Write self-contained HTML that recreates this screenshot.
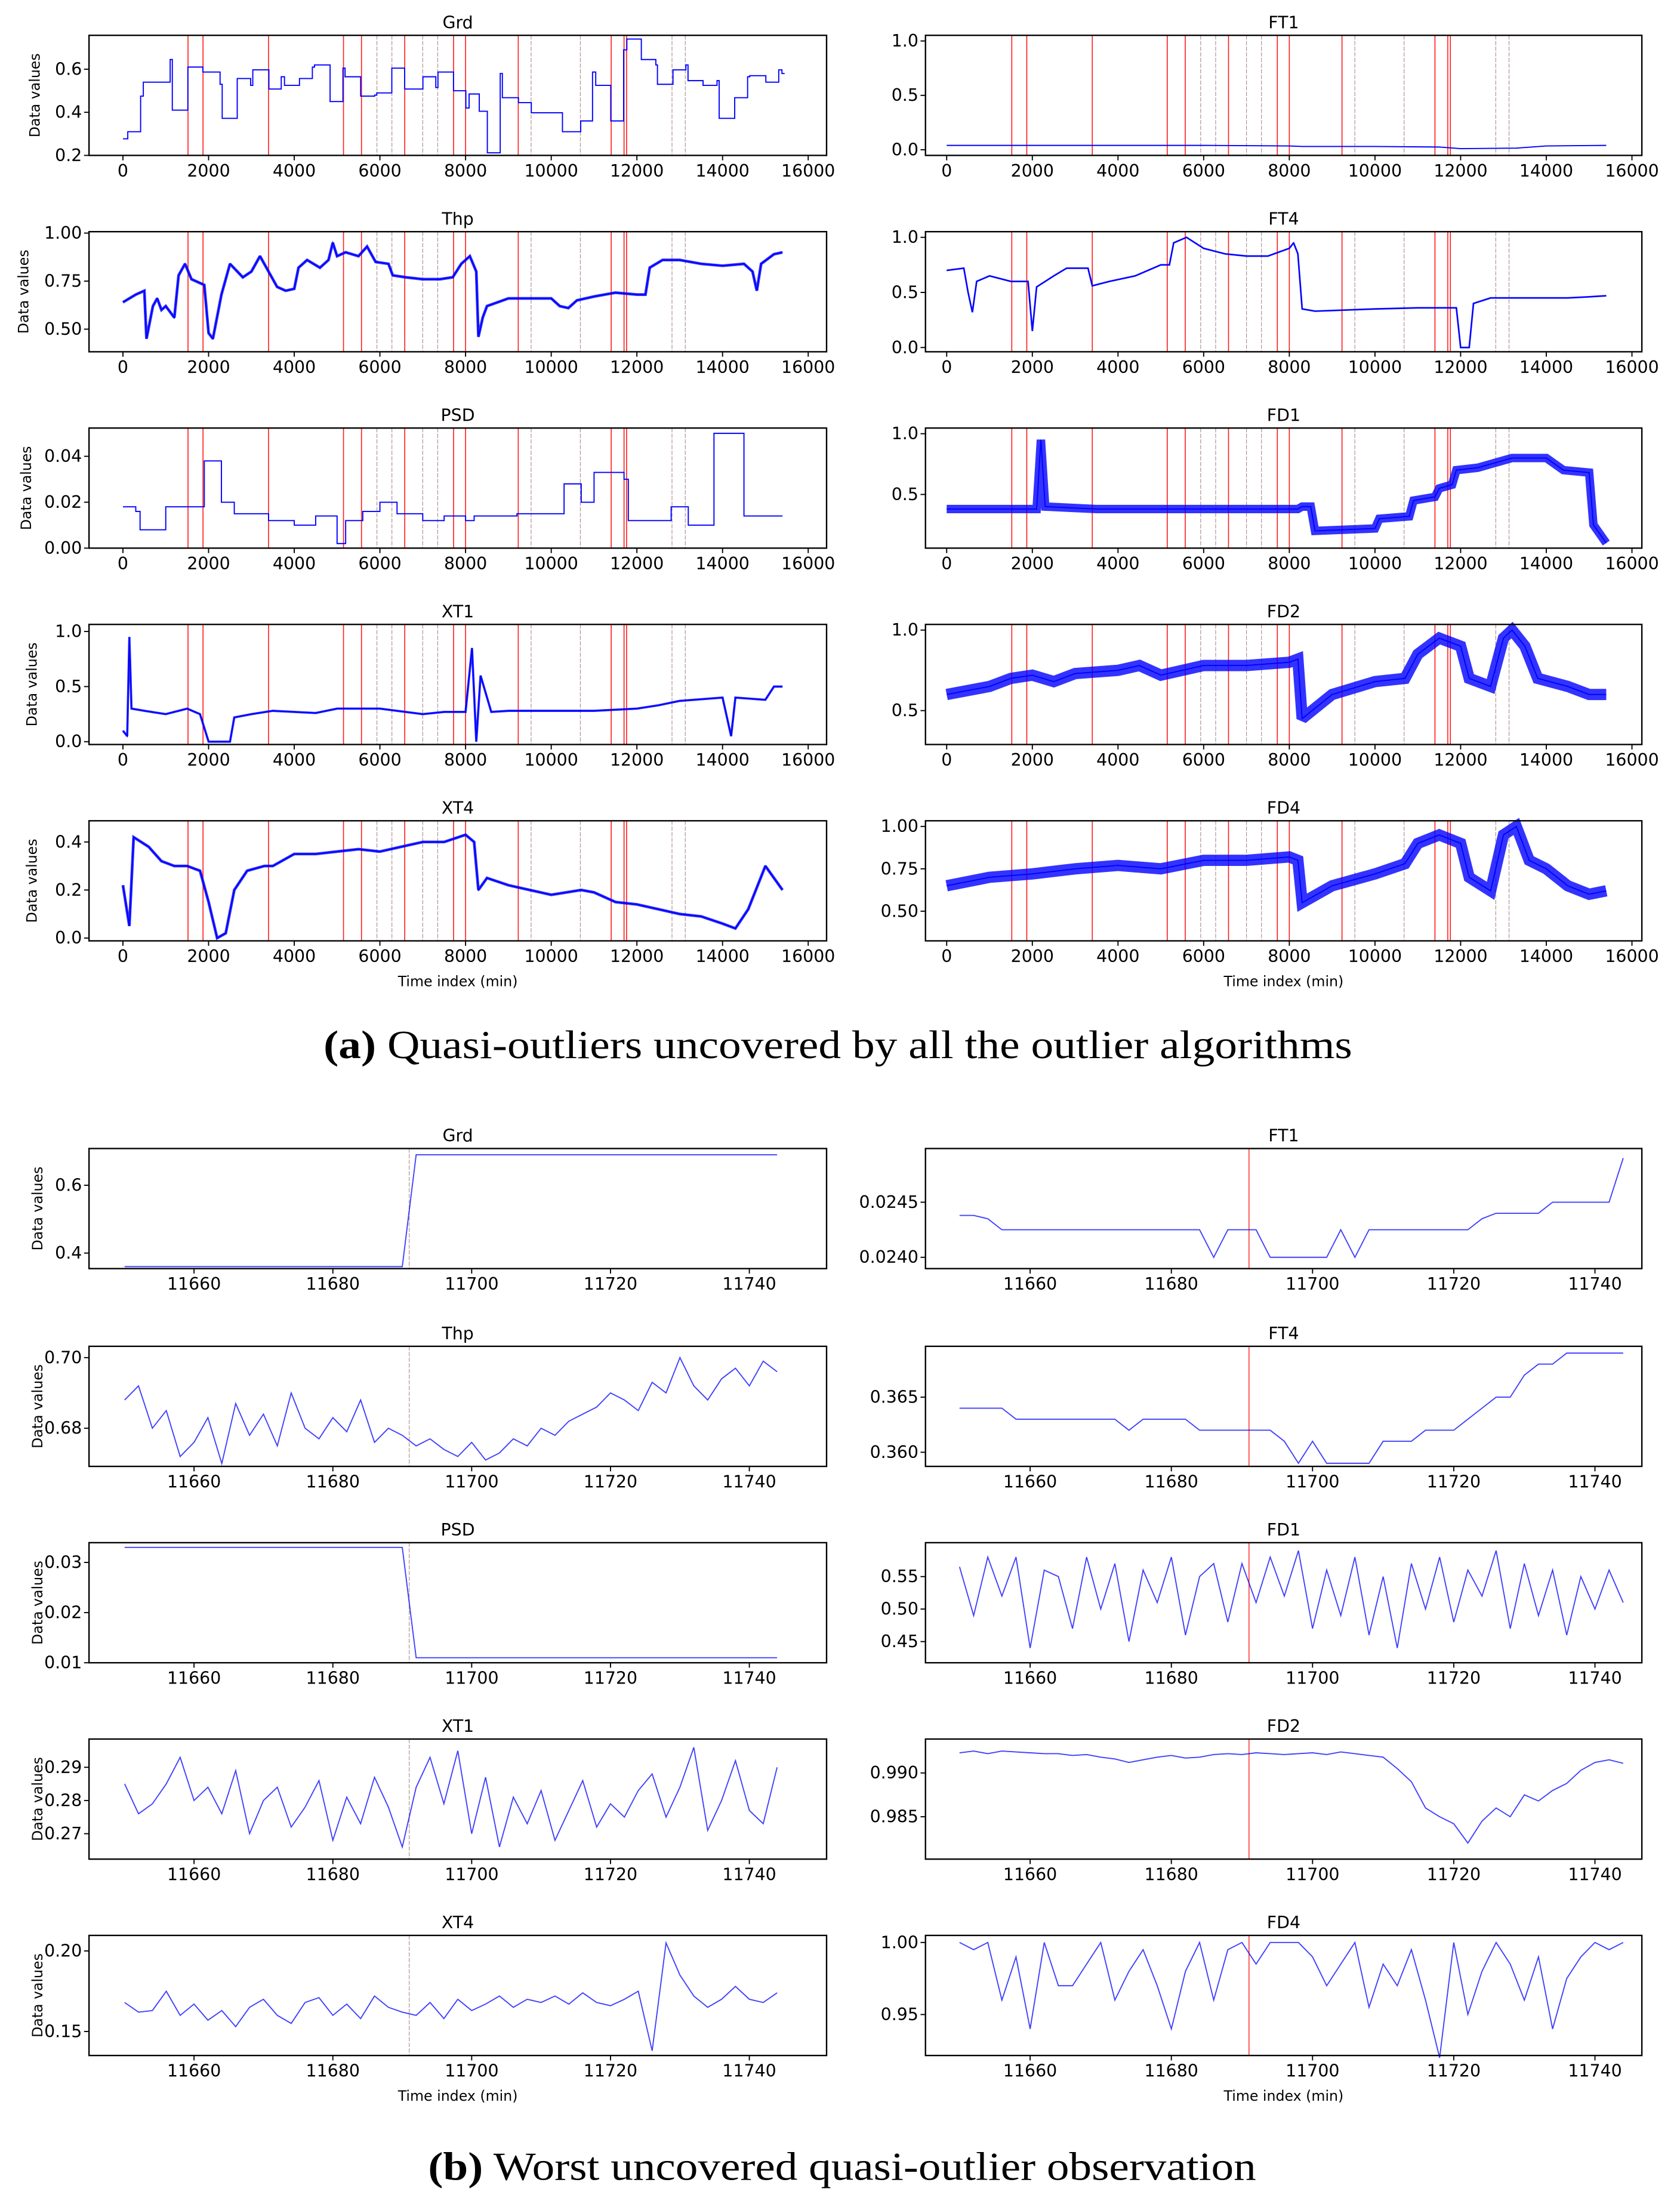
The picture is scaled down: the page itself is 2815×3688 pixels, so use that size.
<!DOCTYPE html>
<html><head><meta charset="utf-8"><style>
html,body{margin:0;padding:0;background:#fff;}
svg{display:block;}
text{font-family:"DejaVu Sans","Liberation Sans",sans-serif;}
.cap{font-family:"Liberation Serif",serif;}
</style></head><body>
<svg id="fig" xmlns="http://www.w3.org/2000/svg" width="2815" height="3688" viewBox="0 0 1189 1558" preserveAspectRatio="none">
<rect width="1189" height="1558" fill="#fff"/>
<text class="cap" x="593" y="749" font-size="28" text-anchor="middle" textLength="728" lengthAdjust="spacingAndGlyphs"><tspan font-weight="bold">(a)</tspan> Quasi-outliers uncovered by all the outlier algorithms</text>
<text class="cap" x="596" y="1543" font-size="28" text-anchor="middle" textLength="586" lengthAdjust="spacingAndGlyphs"><tspan font-weight="bold">(b)</tspan> Worst uncovered quasi-outlier observation</text>
</svg>
<script>
// ---------- top (a) data: [time, value] ----------
const outlierRed = [1520,1870,3400,5150,5570,6580,7720,8000,9230,11400,11700,11760];
const outlierGrey = [5930,6280,7000,7350,9530,10680,12820,13130];
const grdTop = [[0,.277],[113,.31],[413,.475],[476,.54],[1103,.645],[1153,.41],[1516,.61],[1867,.587],[2268,.53],[2318,.372],[2669,.557],[2982,.525],[3032,.597],[3408,.508],[3696,.565],[3772,.525],[4122,.557],[4423,.61],[4473,.62],[4837,.45],[5137,.605],[5187,.565],[5551,.475],[5877,.48],[5927,.49],[6278,.605],[6578,.508],[7004,.565],[7305,.515],[7355,.587],[7718,.5],[8007,.42],[8082,.485],[8320,.405],[8508,.212],[8809,.58],[8859,.468],[9235,.445],[9535,.398],[10262,.31],[10688,.36],[10964,.587],[11039,.525],[11390,.36],[11690,.69],[11766,.74],[12104,.645],[12442,.62],[12480,.53],[12843,.597],[13144,.62],[13194,.547],[13545,.525],[13871,.547],[13921,.372],[14284,.468],[14585,.565],[14635,.57],[15011,.54],[15312,.597],[15387,.58],[15450,.58]];
const ft1Top = [[0,.04],[2000,.04],[4000,.04],[6000,.04],[8000,.035],[8300,.03],[10000,.03],[11500,.025],[12000,.01],[13300,.015],[14000,.035],[15400,.04]];
const thpTop = [[0,.64],[300,.68],[500,.7],[550,.45],[700,.62],[800,.66],[900,.6],[1000,.62],[1200,.56],[1300,.78],[1450,.84],[1600,.76],[1800,.74],[1900,.73],[2000,.48],[2100,.45],[2300,.68],[2500,.84],[2800,.77],[3000,.8],[3200,.88],[3400,.8],[3600,.72],[3800,.7],[4000,.71],[4100,.82],[4300,.86],[4600,.82],[4800,.86],[4900,.95],[5000,.88],[5200,.9],[5500,.88],[5700,.93],[5900,.85],[6200,.84],[6300,.78],[6600,.77],[7000,.76],[7400,.76],[7700,.77],[7900,.84],[8100,.88],[8250,.8],[8300,.46],[8400,.56],[8500,.62],[9000,.66],[9500,.66],[10000,.66],[10200,.62],[10400,.61],[10600,.65],[11000,.67],[11500,.69],[12000,.68],[12200,.68],[12300,.82],[12600,.86],[13000,.86],[13500,.84],[14000,.83],[14500,.84],[14700,.8],[14800,.7],[14900,.84],[15200,.89],[15400,.9]];
const ft4Top = [[0,.7],[400,.72],[500,.5],[600,.32],[700,.6],[1000,.65],[1500,.6],[1900,.6],[2000,.15],[2100,.55],[2500,.65],[2800,.72],[3300,.72],[3400,.56],[3800,.6],[4400,.65],[5000,.75],[5200,.75],[5300,.95],[5600,1.0],[6000,.9],[6500,.85],[7000,.83],[7500,.83],[8000,.9],[8100,.95],[8200,.85],[8300,.35],[8600,.33],[10000,.35],[11000,.36],[11900,.36],[12000,.0],[12200,.0],[12300,.4],[12700,.45],[13500,.45],[14500,.45],[15000,.46],[15400,.47]];
const psdTop = [[0,.018],[300,.016],[400,.008],[1000,.018],[1500,.018],[1900,.038],[2300,.02],[2600,.015],[3400,.012],[4000,.01],[4500,.014],[5000,.002],[5200,.012],[5600,.016],[6000,.02],[6400,.015],[7000,.012],[7500,.014],[8000,.012],[8200,.014],[9200,.015],[10300,.028],[10700,.02],[11000,.033],[11700,.03],[11800,.012],[12800,.018],[13200,.01],[13800,.05],[14500,.014],[15400,.014]];
const xt1Top = [[0,.1],[100,.05],[150,.95],[200,.3],[500,.28],[1000,.25],[1500,.3],[1800,.25],[2000,.0],[2500,.0],[2600,.22],[3000,.25],[3500,.28],[4000,.27],[4500,.26],[5000,.3],[6000,.3],[7000,.25],[7500,.27],[8000,.27],[8150,.85],[8250,.0],[8350,.6],[8600,.27],[9000,.28],[10000,.28],[11000,.28],[12000,.3],[12500,.33],[13000,.37],[14000,.4],[14200,.05],[14300,.4],[15000,.38],[15200,.5],[15400,.5]];
const xt4Top = [[0,.22],[150,.05],[250,.42],[600,.38],[900,.32],[1200,.3],[1500,.3],[1800,.28],[2000,.15],[2200,.0],[2400,.02],[2600,.2],[2900,.28],[3300,.3],[3500,.3],[4000,.35],[4500,.35],[5000,.36],[5500,.37],[6000,.36],[6500,.38],[7000,.4],[7500,.4],[8000,.43],[8200,.4],[8300,.2],[8500,.25],[9000,.22],[9500,.2],[10000,.18],[10700,.2],[11000,.19],[11500,.15],[12000,.14],[12500,.12],[13000,.1],[13500,.09],[14000,.06],[14300,.04],[14600,.12],[15000,.3],[15200,.25],[15400,.2]];
const fd1Top = [[0,.38],[2100,.38],[2200,.95],[2300,.4],[3500,.38],[5000,.38],[8200,.38],[8300,.4],[8500,.4],[8600,.2],[10000,.22],[10100,.3],[10800,.32],[10900,.45],[11400,.48],[11500,.55],[11800,.58],[11900,.7],[12400,.72],[13200,.8],[14000,.8],[14400,.7],[15000,.68],[15100,.25],[15400,.1]];
const fd2Top = [[0,.6],[1000,.65],[1500,.7],[2000,.72],[2500,.68],[3000,.73],[4000,.75],[4500,.78],[5000,.72],[6000,.78],[7000,.78],[8000,.8],[8200,.82],[8300,.45],[9000,.6],[10000,.68],[10700,.7],[11000,.85],[11500,.95],[12000,.9],[12200,.7],[12700,.65],[13000,.95],[13200,1.0],[13500,.9],[13800,.7],[14500,.65],[15000,.6],[15400,.6]];
const fd4Top = [[0,.65],[1000,.7],[2000,.72],[3000,.75],[4000,.77],[5000,.75],[6000,.8],[7000,.8],[8000,.82],[8200,.8],[8300,.55],[9000,.65],[10000,.72],[10700,.78],[11000,.9],[11500,.95],[12000,.9],[12200,.7],[12700,.62],[13000,.95],[13300,1.0],[13600,.8],[14000,.75],[14500,.65],[15000,.6],[15400,.62]];
const topXTicks = [0,2000,4000,6000,8000,10000,12000,14000,16000];

// ---------- bottom (b) data, one value every 2 min from 11650 ----------
const bStart = 11650, bStep = 2, bOutlier = 11691;
const grdBot = [.36,.36,.36,.36,.36,.36,.36,.36,.36,.36,.36,.36,.36,.36,.36,.36,.36,.36,.36,.36,.36,.69,.69,.69,.69,.69,.69,.69,.69,.69,.69,.69,.69,.69,.69,.69,.69,.69,.69,.69,.69,.69,.69,.69,.69,.69,.69,.69];
const psdBot = [.033,.033,.033,.033,.033,.033,.033,.033,.033,.033,.033,.033,.033,.033,.033,.033,.033,.033,.033,.033,.033,.011,.011,.011,.011,.011,.011,.011,.011,.011,.011,.011,.011,.011,.011,.011,.011,.011,.011,.011,.011,.011,.011,.011,.011,.011,.011,.011];
const thpBot = [.688,.692,.680,.685,.672,.676,.683,.670,.687,.678,.684,.675,.690,.680,.677,.683,.679,.688,.676,.680,.678,.675,.677,.674,.672,.676,.671,.673,.677,.675,.680,.678,.682,.684,.686,.690,.688,.685,.693,.690,.700,.692,.688,.694,.697,.692,.699,.696];
const ft1Bot = [.02438,.02438,.02435,.02425,.02425,.02425,.02425,.02425,.02425,.02425,.02425,.02425,.02425,.02425,.02425,.02425,.02425,.02425,.0240,.02425,.02425,.02425,.0240,.0240,.0240,.0240,.0240,.02425,.0240,.02425,.02425,.02425,.02425,.02425,.02425,.02425,.02425,.02435,.0244,.0244,.0244,.0244,.0245,.0245,.0245,.0245,.0245,.0249];
const ft4Bot = [.364,.364,.364,.364,.363,.363,.363,.363,.363,.363,.363,.363,.362,.363,.363,.363,.363,.362,.362,.362,.362,.362,.362,.361,.359,.361,.359,.359,.359,.359,.361,.361,.361,.362,.362,.362,.363,.364,.365,.365,.367,.368,.368,.369,.369,.369,.369,.369];
const fd1Bot = [.565,.49,.58,.52,.58,.44,.56,.55,.47,.58,.50,.57,.45,.56,.51,.58,.46,.55,.57,.48,.57,.51,.58,.52,.59,.47,.56,.49,.58,.46,.55,.44,.57,.50,.58,.48,.56,.52,.59,.47,.57,.49,.56,.46,.55,.50,.56,.51];
const xt1Bot = [.285,.276,.279,.285,.293,.280,.284,.276,.289,.270,.280,.284,.272,.278,.286,.268,.281,.273,.287,.278,.266,.284,.293,.279,.295,.270,.287,.266,.281,.273,.283,.268,.277,.286,.272,.279,.275,.283,.288,.275,.284,.296,.271,.280,.292,.277,.273,.290];
const fd2Bot = [.9923,.9925,.9922,.9925,.9924,.9923,.9922,.9922,.992,.9921,.9918,.9916,.9912,.9915,.9918,.992,.9917,.9918,.9921,.9922,.9921,.9923,.9922,.9921,.9922,.9923,.9921,.9924,.9922,.9920,.9918,.9905,.9890,.9860,.9850,.9842,.9820,.9845,.9860,.9850,.9875,.9868,.9880,.9888,.9903,.9912,.9915,.9911];
const xt4Bot = [.168,.162,.163,.175,.160,.167,.157,.163,.153,.165,.170,.160,.155,.168,.171,.160,.167,.158,.172,.165,.162,.160,.168,.158,.170,.163,.167,.172,.165,.170,.168,.172,.167,.174,.168,.166,.170,.175,.138,.205,.185,.172,.165,.170,.178,.170,.168,.174];
const fd4Bot = [1.0,.995,1.0,.96,.99,.94,1.0,.97,.97,.985,1.0,.96,.98,.995,.97,.94,.98,1.0,.96,.995,1.0,.985,1.0,1.0,1.0,.99,.97,.985,1.0,.955,.985,.97,.995,.96,.92,1.0,.95,.98,1.0,.985,.96,.99,.94,.975,.99,1.0,.995,1.0];
const botXTicks = [11660,11680,11700,11720,11740];

const NS = "http://www.w3.org/2000/svg";
const svg = document.getElementById('fig');
function mk(tag, attrs, parent){ const e=document.createElementNS(NS,tag); for(const k in attrs) e.setAttribute(k,attrs[k]); (parent||svg).appendChild(e); return e; }

function panel(o){
  const g = mk('g',{});
  
  
  const xs = v => o.px0 + (v-o.xd[0])/(o.xd[1]-o.xd[0])*(o.px1-o.px0);
  const ys = v => o.y0 + (v-o.yd[0])/(o.yd[1]-o.yd[0])*(o.y1-o.y0);
  o.red.forEach(t=>{ const l=mk('line',{x1:xs(t),x2:xs(t),y1:o.top,y2:o.bot,stroke:'#ff2020','stroke-width':o.big?0.6:0.7},g);
      });
  o.grey.forEach(t=>{ const l=mk('line',{x1:xs(t),x2:xs(t),y1:o.top,y2:o.bot,stroke:'#b09090','stroke-width':0.5,'stroke-dasharray':'3,1'},g);
      });
  let pts=[];
  o.data.forEach((d,i)=>{
    const t = Array.isArray(d)? d[0] : o.t0 + i*o.dt;
    const v = Array.isArray(d)? d[1] : d;
    if(o.step && pts.length) pts.push([xs(t), pts[pts.length-1][1]]);
    pts.push([xs(t), ys(v)]);
  });
  const ps = pts.map(p=>p[0].toFixed(2)+','+p[1].toFixed(2)).join(' ');
  if(o.noise){
    const band = mk('polyline',{points:ps,fill:'none',stroke:'#0000ff','stroke-opacity':0.8,'stroke-width':o.noise,'stroke-linejoin':'miter','stroke-miterlimit':2},g);
     
  }
  const line = mk('polyline',{points:ps,fill:'none',stroke:'#0000ff','stroke-opacity':o.big?0.75:1,'stroke-width':0.8},g);
   
  mk('rect',{x:o.left,y:o.top,width:o.right-o.left,height:o.bot-o.top,fill:'none',stroke:'#000','stroke-width':1},g);
  o.xt.forEach(v=>{ const x=xs(v); mk('line',{x1:x,x2:x,y1:o.bot,y2:o.bot+3.5,stroke:'#000','stroke-width':0.8},g);
    const tx=mk('text',{x:x,y:o.bot+15,'font-size':12,'text-anchor':'middle'},g); tx.textContent=v;
      });
  o.yt.forEach(v=>{ const y=ys(+v); mk('line',{x1:o.left-3.5,x2:o.left,y1:y,y2:y,stroke:'#000','stroke-width':0.8},g);
    const tx=mk('text',{x:o.left-5,y:y+4,'font-size':12,'text-anchor':'end'},g); tx.textContent=v;
      });
  const ti=mk('text',{x:(o.left+o.right)/2,y:o.top-5,'font-size':12,'text-anchor':'middle'},g); ti.textContent=o.title;
   
  if(o.ylab){ const yl=mk('text',{x:0,y:0,'font-size':10,'text-anchor':'middle',transform:`translate(${o.ylabX},${(o.top+o.bot)/2}) rotate(-90)`},g); yl.textContent='Data values';
      }
  if(o.xlab){ const xl=mk('text',{x:(o.left+o.right)/2,y:o.bot+32,'font-size':10,'text-anchor':'middle'},g); xl.textContent='Time index (min)';
      }
}

const LEFT={left:63,right:585,px0:87,px1:572}, RIGHT={left:655,right:1162,px0:670,px1:1155};
const rowsTop=[25,164,303,442,581];
function topPanel(side,row,o){
  const s = side==='L'?LEFT:RIGHT; const top=rowsTop[row];
  panel(Object.assign({left:s.left,right:s.right,px0:s.px0,px1:s.px1,top:top,bot:top+85,xd:[0,16000],xt:topXTicks,red:outlierRed,grey:outlierGrey,ylab:side==='L',ylabX:side==='L'?(o.ylabX||28):0,xlab:row===4},o));
}
topPanel('L',0,{name:'grd',title:'Grd',data:grdTop,step:true,yd:[.2,.6],y0:110,y1:49,yt:['0.2','0.4','0.6']});
topPanel('L',1,{name:'thp',title:'Thp',data:thpTop,noise:2,yd:[.5,.75],y0:233,y1:199,yt:['0.50','0.75','1.00'],ylabX:20});
topPanel('L',2,{name:'psd',title:'PSD',data:psdTop,step:true,yd:[0,.04],y0:388,y1:323,yt:['0.00','0.02','0.04'],ylabX:22});
topPanel('L',3,{name:'xt1',title:'XT1',data:xt1Top,noise:1.6,yd:[0,1],y0:525,y1:447,yt:['0.0','0.5','1.0'],ylabX:26});
topPanel('L',4,{name:'xt4',title:'XT4',data:xt4Top,noise:2,yd:[0,.4],y0:664,y1:596,yt:['0.0','0.2','0.4'],ylabX:26});
topPanel('R',0,{name:'ft1',title:'FT1',data:ft1Top,yd:[0,1],y0:106,y1:29,yt:['0.0','0.5','1.0']});
topPanel('R',1,{name:'ft4',title:'FT4',data:ft4Top,noise:1.2,yd:[0,1],y0:246,y1:168,yt:['0.0','0.5','1.0']});
topPanel('R',2,{name:'fd1',title:'FD1',data:fd1Top,noise:6,yd:[.5,1],y0:350,y1:307,yt:['0.5','1.0']});
topPanel('R',3,{name:'fd2',title:'FD2',data:fd2Top,noise:8,yd:[.5,1],y0:503,y1:446,yt:['0.5','1.0']});
topPanel('R',4,{name:'fd4',title:'FD4',data:fd4Top,noise:8,yd:[.5,1],y0:645,y1:585,yt:['0.50','0.75','1.00']});

const rowsBot=[818,958,1097,1236,1375];
const LB={left:63,right:585,px0:88.2,px1:554.9}, RB={left:655,right:1162,px0:679.1,px1:1153.8};
function botPanel(side,row,o){
  const s = side==='L'?LB:RB; const top=rowsBot[row]-5;
  const sh = v => v-5;
  panel(Object.assign({big:true,left:s.left,right:s.right,px0:s.px0,px1:s.px1,top:top,bot:top+85,xd:[11650,11745],xt:botXTicks,t0:bStart,dt:bStep,
    red:side==='R'?[bOutlier]:[],grey:side==='L'?[bOutlier]:[],ylab:side==='L',ylabX:30,xlab:row===4},o,{y0:sh(o.y0),y1:sh(o.y1)}));
}
botPanel('L',0,{name:'grd-zoom',title:'Grd',data:grdBot,yd:[.4,.6],y0:892,y1:844,yt:['0.4','0.6']});
botPanel('L',1,{name:'thp-zoom',title:'Thp',data:thpBot,yd:[.68,.70],y0:1016,y1:966,yt:['0.68','0.70']});
botPanel('L',2,{name:'psd-zoom',title:'PSD',data:psdBot,yd:[.01,.03],y0:1182,y1:1111,yt:['0.01','0.02','0.03']});
botPanel('L',3,{name:'xt1-zoom',title:'XT1',data:xt1Bot,yd:[.27,.29],y0:1303,y1:1256,yt:['0.27','0.28','0.29']});
botPanel('L',4,{name:'xt4-zoom',title:'XT4',data:xt4Bot,yd:[.15,.20],y0:1443,y1:1386,yt:['0.15','0.20']});
botPanel('R',0,{name:'ft1-zoom',title:'FT1',data:ft1Bot,yd:[.024,.0245],y0:895,y1:856,yt:['0.0240','0.0245']});
botPanel('R',1,{name:'ft4-zoom',title:'FT4',data:ft4Bot,yd:[.36,.365],y0:1033,y1:994,yt:['0.360','0.365']});
botPanel('R',2,{name:'fd1-zoom',title:'FD1',data:fd1Bot,yd:[.45,.55],y0:1167,y1:1121,yt:['0.45','0.50','0.55']});
botPanel('R',3,{name:'fd2-zoom',title:'FD2',data:fd2Bot,yd:[.985,.99],y0:1291,y1:1260,yt:['0.985','0.990']});
botPanel('R',4,{name:'fd4-zoom',title:'FD4',data:fd4Bot,yd:[.95,1.0],y0:1431,y1:1380,yt:['0.95','1.00']});
</script>
</body></html>
